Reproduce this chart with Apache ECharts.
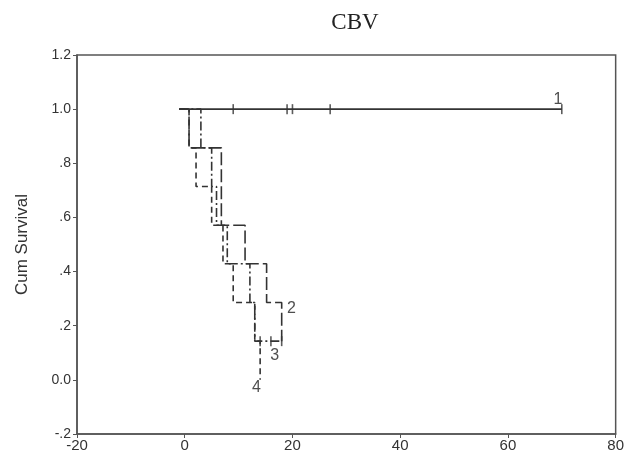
<!DOCTYPE html>
<html>
<head>
<meta charset="UTF-8">
<title>CBV</title>
<script src="https://cdn.jsdelivr.net/npm/echarts@6/dist/echarts.min.js"></script>
<style>
  body { margin: 0; background: #fff; }
  #main { width: 627px; height: 456px; }
</style>
</head>
<body>
<div id="main"></div>
<script>
  // survival curves (time, cumulative survival)
  var times1 = [-1, 70];
  var surv1 = [1, 1];
  var censor1 = [9, 19, 20, 27, 70];

  var times2 = [-1, 0.8, 6.8, 11.2, 15.2, 18.0];
  var surv2 = [1, 0.857, 0.571, 0.429, 0.286, 0.143];

  var times3 = [-1, 3.0, 5.0, 5.9, 7.9, 12.1, 13.0, 18.0];
  var surv3 = [1, 0.857, 0.714, 0.571, 0.429, 0.286, 0.143, 0.143];
  var censor3 = [14, 16, 18];

  var times4 = [-1, 0.8, 2.1, 5.0, 7.1, 9.0, 13.0, 14.0];
  var surv4 = [1, 0.857, 0.714, 0.571, 0.429, 0.286, 0.143, 0];

  // curve labels
  var labelText = ['1', '2', '3', '4'];
  var labelX = [69.3, 19.8, 16.7, 13.3];
  var labelY = [1.035, 0.265, 0.09, -0.03];

  var xTicks = { min: -20, max: 80, step: 20 };
  var yTicks = { min: -0.2, max: 1.2, step: 0.2 };

  function pairs(xs, ys) {
    var out = [];
    for (var i = 0; i < xs.length; i++) out.push([xs[i], ys[i]]);
    return out;
  }
  function censorPts(xs, y) {
    return xs.map(function (x) { return [x, y]; });
  }

  var ink = '#333';
  function curve(name, data, dash) {
    return {
      name: name, type: 'line', step: 'end', data: data,
      showSymbol: false, silent: true,
      lineStyle: { color: ink, width: 1.6, type: dash }
    };
  }
  function ticks(data) {
    return {
      type: 'scatter', data: data, silent: true,
      symbol: 'rect', symbolSize: [1.6, 10],
      itemStyle: { color: ink }
    };
  }

  var chart = echarts.init(document.getElementById('main'));
  chart.setOption({
    animation: false,
    title: {
      text: 'CBV',
      left: 350,
      textAlign: 'center',
      top: 6,
      textStyle: { fontFamily: 'Liberation Serif', fontSize: 23, fontWeight: 'normal', color: '#222' }
    },
    grid: {
      left: 77, right: 11, top: 55, bottom: 22,
      show: true, borderColor: '#555', borderWidth: 1.5
    },
    xAxis: {
      type: 'value',
      min: xTicks.min, max: xTicks.max, interval: xTicks.step,
      axisLine: { show: true, onZero: false, lineStyle: { color: '#555', width: 1.5 } },
      axisTick: { show: true, length: 4, lineStyle: { color: '#555' } },
      splitLine: { show: false },
      axisLabel: { color: '#333', fontSize: 15, fontFamily: 'Liberation Sans', margin: 4 }
    },
    yAxis: {
      type: 'value',
      min: yTicks.min, max: yTicks.max, interval: yTicks.step,
      name: 'Cum Survival',
      nameLocation: 'middle',
      nameGap: 46,
      nameTextStyle: { color: '#333', fontSize: 17, fontFamily: 'Liberation Sans' },
      axisLine: { show: true, onZero: false, lineStyle: { color: '#555', width: 1.5 } },
      axisTick: { show: true, length: 4, lineStyle: { color: '#555' } },
      splitLine: { show: false },
      axisLabel: {
        color: '#333', fontSize: 14, fontFamily: 'Liberation Sans', margin: 6,
        formatter: function (v) {
          if (Math.abs(v) < 1e-9) return '0.0';
          return v.toFixed(1).replace(/^(-?)0\./, '$1.');
        }
      }
    },
    series: [
      curve('4', pairs(times4, surv4), [6, 4]),
      curve('3', pairs(times3, surv3), [9, 3, 2, 3]),
      curve('2', pairs(times2, surv2), [13, 4]),
      curve('1', pairs(times1, surv1), 'solid'),
      ticks(censorPts(censor1, 1)),
      ticks(censorPts(censor3, 0.143)),
      {
        type: 'scatter', silent: true, symbolSize: 0,
        data: labelText.map(function (t, i) { return [labelX[i], labelY[i], t]; }),
        label: {
          show: true, position: 'inside', color: '#222',
          fontSize: 16, fontFamily: 'Liberation Sans',
          formatter: function (p) { return p.data[2]; }
        }
      }
    ]
  });
</script>
</body>
</html>
